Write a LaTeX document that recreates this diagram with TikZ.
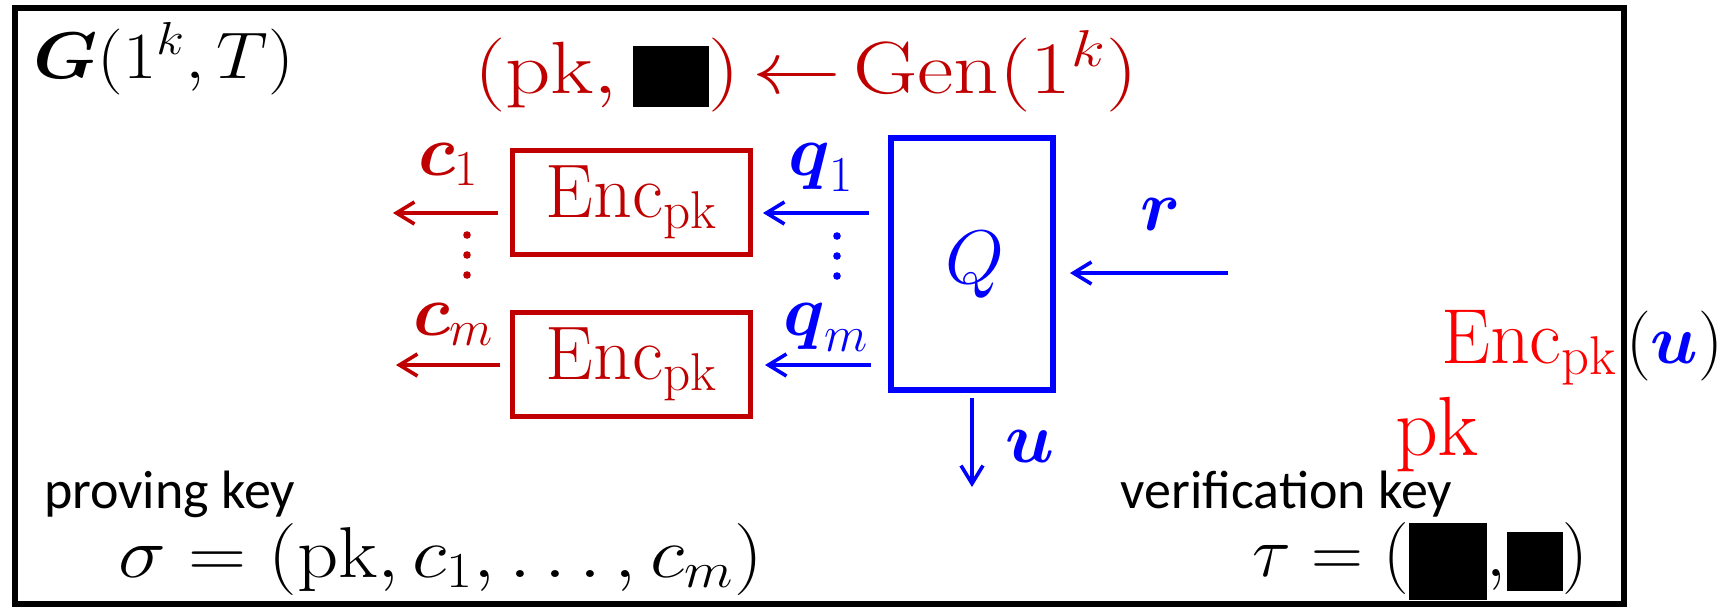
\RequirePackage{fix-cm}
\documentclass[tikz,border=0pt]{standalone}
\usepackage{amsmath,amssymb}
\usepackage{graphicx}
\usepackage{fontspec}
\newfontfamily\calib{Carlito}
\usetikzlibrary{arrows.meta}
\definecolor{dred}{RGB}{192,0,0}
\definecolor{bblue}{RGB}{0,0,255}
\definecolor{bred}{RGB}{255,0,0}
\tikzset{
  txt/.style={inner sep=0pt,outer sep=0pt},
  encbox/.style={draw=dred,line width=2.5pt,minimum width=119pt,minimum height=52pt,inner sep=0pt,text=dred},
  qbox/.style={draw=bblue,line width=3pt,minimum width=81pt,minimum height=126pt,inner sep=0pt},
  redarr/.style={draw=dred,line width=1.8pt,-{Straight Barb[length=9pt,width=11pt]}},
  bluearr/.style={draw=bblue,line width=1.8pt,-{Straight Barb[length=9pt,width=11pt]}},
}
\newcommand{\fs}[1]{\fontsize{#1}{#1}\selectfont}
\begin{document}
\begin{tikzpicture}[x=0.5pt,y=-0.5pt]
\useasboundingbox (0,0) rectangle (1726,607);
\fill[white] (0,0) rectangle (1726,607);
% frame
\draw[line width=3pt] (15,7.5) rectangle (1623.5,604);
% titles
\node[txt,anchor=base west] (G) at (33,78) {\fs{33}\scalebox{1.1}[1]{$\boldsymbol{G}(1^k,T)$}};
\node[txt,anchor=base,text=dred] (gen) at (806,93) {\fs{37}\scalebox{1.2}[1]{$(\mathrm{pk},{\color{black}\rule[-7pt]{31.5pt}{30.5pt}})\mkern-2.5mu\leftarrow\mkern-2.5mu\mathrm{Gen}(1^k)$}};
% enc boxes
\node[encbox] (enc1) at (631.5,202.5) {\fs{38}$\mathrm{Enc}_{\mathrm{pk}}$};
\node[encbox] (enc2) at (631.5,364.5) {\fs{38}$\mathrm{Enc}_{\mathrm{pk}}$};
% Q box
\node[qbox] (Q) at (972,264) {};
\node[txt,anchor=base,text=bblue] (Qt) at (975,283) {\fs{38}$Q$};
% coordinates
\coordinate (c1end) at (393,213);
\coordinate (cmend) at (396,365);
\coordinate (rstart) at (1228,273);
\coordinate (uend) at (972,487);
% arrows
\draw[redarr,shorten <=6pt] (enc1.west |- c1end) -- (c1end);
\draw[redarr,shorten <=5pt] (enc2.west |- cmend) -- (cmend);
\draw[bluearr,shorten <=9.5pt,shorten >=5pt] (Q.west |- c1end) -- (enc1.east |- c1end);
\draw[bluearr,shorten <=8.5pt,shorten >=6pt] (Q.west |- cmend) -- (enc2.east |- cmend);
\draw[bluearr,shorten >=7pt] (rstart) -- (Q.east |- rstart);
\draw[bluearr,shorten <=2.5pt] (Q.south) -- (uend);
% labels
\node[txt,anchor=base west,text=dred] (c1) at (418,175) {\fs{36}$\boldsymbol{c}_1$};
\node[txt,anchor=base west,text=dred] (cm) at (413,335) {\fs{36}$\boldsymbol{c}_m$};
\node[txt,anchor=base west,text=bblue] (q1) at (788,175) {\fs{36}$\boldsymbol{q}_1$};
\node[txt,anchor=base west,text=bblue] (qm) at (783,335) {\fs{36}$\boldsymbol{q}_m$};
\node[txt,anchor=base west,text=bblue] (r) at (1140,230) {\fs{36}$\boldsymbol{r}$};
\node[txt,anchor=base west,text=bblue] (u) at (1005,462) {\fs{36}$\boldsymbol{u}$};
% dots
\foreach \yy in {235,255,275} {\fill[dred] (467,\yy) circle (3.8);}
\foreach \yy in {236,256,276} {\fill[bblue] (837,\yy) circle (3.8);}
% Enc_pk(u) and pk
\node[txt,anchor=base east,text=bred] (encu) at (1617,363) {\fs{39}$\mathrm{Enc}_{\mathrm{pk}}$};
\node[txt,anchor=base west] (paru) at (1626,363) {\fs{35}$({\color{bblue}\boldsymbol{u}})$};
\node[txt,anchor=base west,text=bred] (pk) at (1395,455) {\fs{42}$\mathrm{pk}$};
% keys
\node[txt,anchor=base west] (pkey) at (44,508) {\calib\fs{27}proving key};
\node[txt,anchor=base east] (vkey) at (1452,508) {\calib\fs{27}verification key};
\node[txt,anchor=base west] (sigma) at (118,577) {\fs{36}\scalebox{1.12}[1]{$\sigma=(\mathrm{pk},c_1,\ldots,c_m)$}};
\node[txt,anchor=base east] (tau) at (1588,576) {\fs{36}$\tau=(\rule[-12pt]{39pt}{38.5pt}{,}\rule[-7.5pt]{28pt}{29.5pt})$};
\end{tikzpicture}
\end{document}
